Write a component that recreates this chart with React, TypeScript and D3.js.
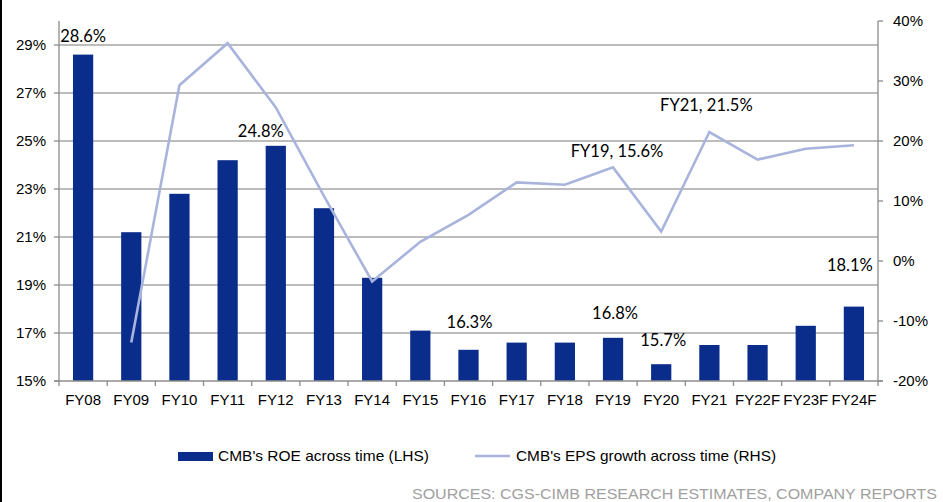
import React from "react";
import * as d3 from "d3";

const categories = ["FY08","FY09","FY10","FY11","FY12","FY13","FY14","FY15","FY16","FY17","FY18","FY19","FY20","FY21","FY22F","FY23F","FY24F"];
const roe = [28.6,21.2,22.8,24.2,24.8,22.2,19.3,17.1,16.3,16.6,16.6,16.8,15.7,16.5,16.5,17.3,18.1];
const epsGrowth: (number | null)[] = [null,-13.6,29.3,36.3,25.6,10.8,-3.4,3.2,7.7,13.1,12.7,15.6,4.9,21.5,16.9,18.7,19.3];
const leftTicks = [15,17,19,21,23,25,27,29];
const rightTicks = [-20,-10,0,10,20,30,40];
const barLabels = [
  { i: 0, text: "28.6%", dx: 0, dy: -13 },
  { i: 4, text: "24.8%", dx: -15, dy: -9 },
  { i: 8, text: "16.3%", dx: 1, dy: -22 },
  { i: 11, text: "16.8%", dx: 2, dy: -19 },
  { i: 12, text: "15.7%", dx: 2, dy: -18 },
  { i: 16, text: "18.1%", dx: -4, dy: -36 },
];
const lineLabels = [
  { i: 11, text: "FY19, 15.6%", dx: 4, dy: -10 },
  { i: 13, text: "FY21, 21.5%", dx: -3, dy: -21 },
];

const W = 943, H = 502;
const L = 59, R = 878, T = 21, B = 381;
const BAR = "#0A2D8C";
const LINE = "#A8B4DC";
const GRID = "#A6A6A6";
const AXIS = "#8C8C8C";

export default function App() {
  const x = d3.scaleBand<string>().domain(categories).range([L, R]).paddingInner(0.58).paddingOuter(0.29);
  const cx = (i: number) => (x(categories[i]) as number) + x.bandwidth() / 2;
  const step = x.step();
  const yL = d3.scaleLinear().domain([15, 30]).range([B, T]);
  const yR = d3.scaleLinear().domain([-20, 40]).range([B, T]);
  const line = d3.line<number | null>()
    .defined((d) => d !== null)
    .x((_, i) => cx(i))
    .y((d) => yR(d as number));

  const axisFont = "'Liberation Sans', Arial, sans-serif";
  const labelFont = "Lato, 'Open Sans', sans-serif";

  return (
    <svg width={W} height={H} style={{ position: "absolute", left: 0, top: 0, background: "#fff" }}>
      <rect x={0} y={0} width={W} height={H} fill="#fff" />
      <rect x={0} y={0} width={2} height={H} fill="#000" />
      {leftTicks.filter((t) => t !== 15).map((t) => (
        <line key={t} x1={L} x2={R} y1={yL(t)} y2={yL(t)} stroke={GRID} strokeWidth={1.3} />
      ))}
      {roe.map((v, i) => (
        <rect key={i} x={x(categories[i])} y={yL(v)} width={x.bandwidth()} height={B - yL(v)} fill={BAR} />
      ))}
      <path d={line(epsGrowth) || ""} fill="none" stroke={LINE} strokeWidth={2.6} strokeLinejoin="miter" />
      <line x1={L} x2={L} y1={T} y2={B} stroke={AXIS} strokeWidth={1.3} />
      <line x1={R} x2={R} y1={T} y2={B} stroke={AXIS} strokeWidth={1.3} />
      <line x1={L - 5} x2={R + 5} y1={B} y2={B} stroke={AXIS} strokeWidth={1.3} />
      {leftTicks.map((t) => (
        <g key={t}>
          <line x1={L - 5} x2={L} y1={yL(t)} y2={yL(t)} stroke={AXIS} strokeWidth={1.3} />
          <text x={L - 13} y={yL(t) + 5} textAnchor="end" fontFamily={axisFont} fontSize={15} fill="#000">{t}%</text>
        </g>
      ))}
      {rightTicks.map((t) => (
        <g key={t}>
          <line x1={R} x2={R + 5} y1={yR(t)} y2={yR(t)} stroke={AXIS} strokeWidth={1.3} />
          <text x={R + 15} y={yR(t) + 5} textAnchor="start" fontFamily={axisFont} fontSize={15} fill="#000">{t}%</text>
        </g>
      ))}
      {categories.map((c, i) => (
        <g key={c}>
          <line x1={L + step * i} x2={L + step * i} y1={B} y2={B + 5} stroke={AXIS} strokeWidth={1.3} />
          <text x={cx(i)} y={405} textAnchor="middle" fontFamily={axisFont} fontSize={15} fill="#000">{c}</text>
        </g>
      ))}
      <line x1={R} x2={R} y1={B} y2={B + 5} stroke={AXIS} strokeWidth={1.3} />
      {barLabels.map((b) => (
        <text key={b.text} x={cx(b.i) + b.dx} y={yL(roe[b.i]) + b.dy} textAnchor="middle" fontFamily={labelFont} fontSize={16.5} fill="#000">{b.text}</text>
      ))}
      {lineLabels.map((b) => (
        <text key={b.text} x={cx(b.i) + b.dx} y={yR(epsGrowth[b.i] as number) + b.dy} textAnchor="middle" fontFamily={labelFont} fontSize={16.5} fill="#000">{b.text}</text>
      ))}
      <rect x={178} y={452} width={35} height={9} fill={BAR} />
      <text x={218} y={461} fontFamily={axisFont} fontSize={15} textLength={211} lengthAdjust="spacingAndGlyphs" fill="#000">CMB's ROE across time (LHS)</text>
      <line x1={475} x2={510} y1={456} y2={456} stroke={LINE} strokeWidth={2.6} />
      <text x={516} y={461} fontFamily={axisFont} fontSize={15} textLength={260} lengthAdjust="spacingAndGlyphs" fill="#000">CMB's EPS growth across time (RHS)</text>
      <text x={412} y={499} fontFamily={axisFont} fontSize={15} textLength={525} lengthAdjust="spacingAndGlyphs" fill="#A0A0A0">SOURCES: CGS-CIMB RESEARCH ESTIMATES, COMPANY REPORTS</text>
    </svg>
  );
}
